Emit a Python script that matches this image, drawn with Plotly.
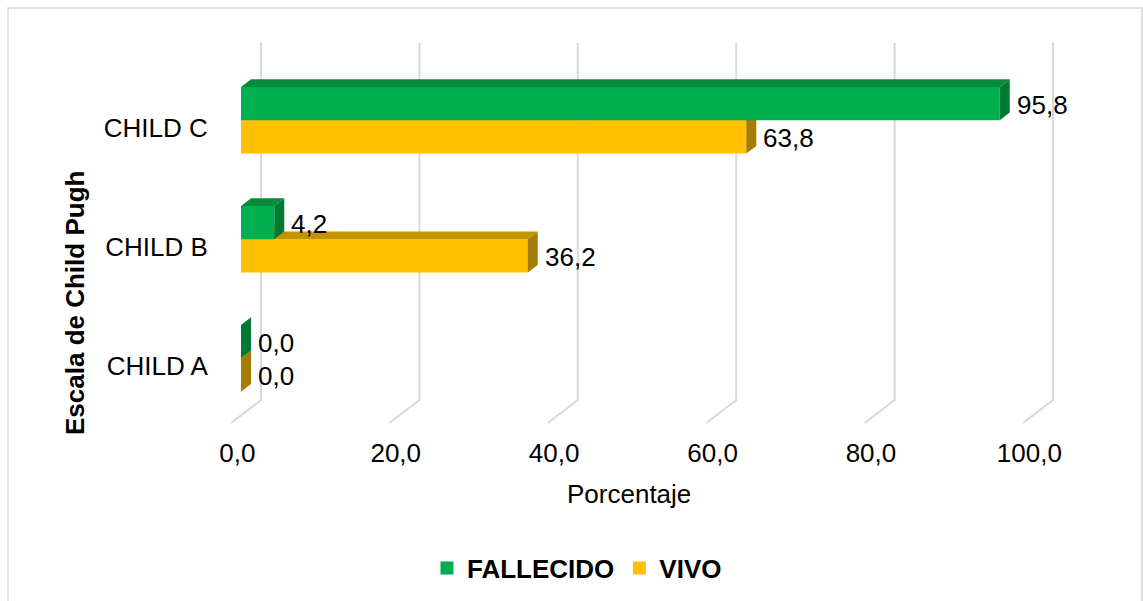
import plotly.graph_objects as go

# ---- data -------------------------------------------------------------
categories = ["CHILD A", "CHILD B", "CHILD C"]
fallecido = [0.0, 4.2, 95.8]
vivo = [0.0, 36.2, 63.8]
x_ticks = [0, 20, 40, 60, 80, 100]
series_names = ["FALLECIDO", "VIVO"]

# face colours: front, top, side
GREEN = ("#00B050", "#078A3C", "#007A33")
YELLOW = ("#FFC000", "#C49300", "#A67D00")

FONT = "Liberation Sans, Arial, sans-serif"
FS = 26

# ---- pseudo-3D projection (depth axis expressed in data units) --------
DEPTH_X = 3.79      # x shift from floor front to back wall
DEPTH_Y = 0.193     # y shift from floor front to back wall
BAR_H = 0.28        # thickness of each bar (category units)
FRONT, BACK = 1 / 3, 2 / 3
Y_LO, Y_HI = -0.48, 2.52

# pixel layout of the plot area
W, H = 1143, 601
PX_X = 7.92         # pixels per percentage unit
PX_Y = 119.0        # pixels per category unit
X0_PX, Y0_PX = 231, 423      # where (0, Y_LO) sits at the floor front
L_PX, R_PX, T_PX, B_PX = 224, 1062, 36, 430

x_range = [(L_PX - X0_PX) / PX_X, (R_PX - X0_PX) / PX_X]
y_range = [Y_LO - (B_PX - Y0_PX) / PX_Y, Y_LO + (Y0_PX - T_PX) / PX_Y]


def paper_x(px):
    return (px - L_PX) / (R_PX - L_PX)


def paper_y(py):
    return (B_PX - py) / (B_PX - T_PX)


fig = go.Figure()


def poly(xs, ys, color):
    fig.add_trace(go.Scatter(
        x=xs + [xs[0]], y=ys + [ys[0]], mode="lines", fill="toself",
        fillcolor=color, line=dict(width=0, color=color),
        hoverinfo="skip", showlegend=False))


# back-wall and floor gridlines
for v in x_ticks:
    fig.add_trace(go.Scatter(
        x=[v, v + DEPTH_X, v + DEPTH_X],
        y=[Y_LO, Y_LO + DEPTH_Y, Y_HI + DEPTH_Y],
        mode="lines", line=dict(color="#D9D9D9", width=2),
        hoverinfo="skip", showlegend=False))


def bar3d(v, y0, y1, colors):
    front, top, side = colors
    fx, fy = DEPTH_X * FRONT, DEPTH_Y * FRONT
    bx, by = DEPTH_X * BACK, DEPTH_Y * BACK
    if v > 0:
        poly([fx, v + fx, v + fx, fx], [y0 + fy, y0 + fy, y1 + fy, y1 + fy], front)
        poly([fx, v + fx, v + bx, bx], [y1 + fy, y1 + fy, y1 + by, y1 + by], top)
    poly([v + fx, v + fx, v + bx, v + bx], [y0 + fy, y1 + fy, y1 + by, y0 + by], side)


for c in range(len(categories)):
    bar3d(vivo[c], c - BAR_H, c, YELLOW)
    bar3d(fallecido[c], c, c + BAR_H, GREEN)

# value labels next to each bar end
fy = DEPTH_Y * FRONT
bx = DEPTH_X * BACK
for vals, sign in ((fallecido, 1), (vivo, -1)):
    for c, v in enumerate(vals):
        fig.add_annotation(
            x=v + bx, y=c + sign * BAR_H / 2 + fy,
            text=f"{v:.1f}".replace(".", ","), showarrow=False,
            xanchor="left", yanchor="middle", xshift=5, yshift=-1,
            font=dict(family=FONT, size=FS, color="#000000"))

# legend entries
for name, col in zip(series_names, (GREEN[0], YELLOW[0])):
    fig.add_trace(go.Scatter(
        x=[None], y=[None], mode="markers", name=name,
        marker=dict(symbol="square", size=13, color=col)))

# axis titles
fig.add_annotation(x=paper_x(629), y=paper_y(494), xref="paper", yref="paper",
                   text="Porcentaje", showarrow=False,
                   xanchor="center", yanchor="middle",
                   font=dict(family=FONT, size=FS, color="#000000"))
fig.add_annotation(x=paper_x(75), y=paper_y(303), xref="paper", yref="paper",
                   text="<b>Escala de Child Pugh</b>", showarrow=False,
                   textangle=-90, xanchor="center", yanchor="middle",
                   font=dict(family=FONT, size=FS, color="#000000"))

# outer frame
fig.add_shape(type="rect", xref="paper", yref="paper",
              x0=paper_x(8), x1=paper_x(1142), y0=paper_y(608), y1=paper_y(8),
              line=dict(color="#D9D9D9", width=1.5), layer="below")

fig.update_layout(
    width=W, height=H,
    margin=dict(l=L_PX, r=W - R_PX, t=T_PX, b=H - B_PX, autoexpand=False),
    paper_bgcolor="white", plot_bgcolor="white",
    font=dict(family=FONT, size=FS, color="#000000"),
    showlegend=True,
    legend=dict(orientation="h", x=paper_x(577), xanchor="center",
                y=paper_y(568), yanchor="middle",
                font=dict(family=FONT, size=FS, color="#000000", weight="bold"),
                itemsizing="trace", bgcolor="rgba(0,0,0,0)"),
    xaxis=dict(range=x_range, showgrid=False, zeroline=False, showline=False,
               tickvals=[v + 0.8 for v in x_ticks],
               ticktext=[f"{v:.1f}".replace(".", ",") for v in x_ticks],
               ticks="outside", ticklen=0, tickcolor="rgba(0,0,0,0)"),
    yaxis=dict(range=y_range, showgrid=False, zeroline=False, showline=False,
               tickvals=list(range(len(categories))), ticktext=categories,
               ticks="outside", ticklen=10, tickcolor="rgba(0,0,0,0)"),
)

fig.write_html("out.html")
